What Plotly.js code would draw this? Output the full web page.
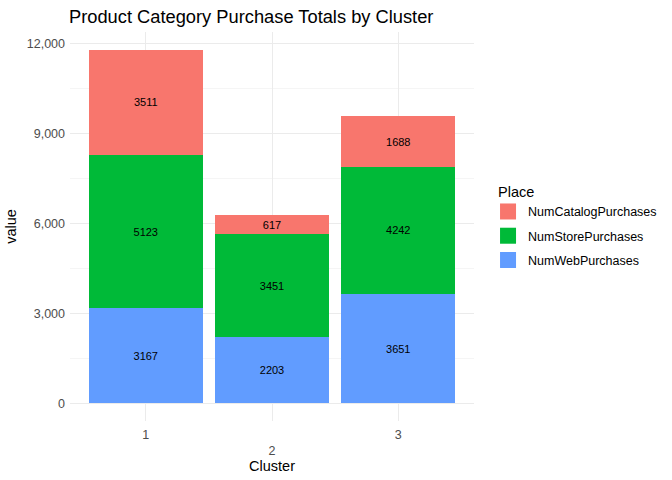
<!DOCTYPE html>
<html>
<head>
<meta charset="utf-8">
<script src="https://cdn.plot.ly/plotly-3.0.1.min.js"></script>
<style>html,body{margin:0;padding:0;background:#fff}#chart{width:672px;height:480px}</style>
</head>
<body>
<div id="chart"></div>
<script>
const clusters = [1, 2, 3];
const clusterLabels = ["1", "<br>2", "3"];
const webPurchases = [3167, 2203, 3651];
const storePurchases = [5123, 3451, 4242];
const catalogPurchases = [3511, 617, 1688];
const seriesNames = ["NumWebPurchases", "NumStorePurchases", "NumCatalogPurchases"];
const seriesColors = ["#619CFF", "#00BA38", "#F8766D"];
const seriesValues = [webPurchases, storePurchases, catalogPurchases];

const font = "Liberation Sans, Arial, sans-serif";
const traces = [];
// legend entries (square keys), listed top to bottom: Catalog, Store, Web
[2, 1, 0].forEach(i => {
  traces.push({
    type: "scatter", mode: "markers", x: [null], y: [null], name: seriesNames[i],
    legendgroup: seriesNames[i],
    marker: {symbol: "square", size: 20, color: seriesColors[i], line: {width: 0}},
    showlegend: true
  });
});
seriesValues.forEach((vals, i) => {
  traces.push({
    type: "bar",
    x: clusters,
    y: vals,
    name: seriesNames[i],
    legendgroup: seriesNames[i],
    showlegend: false,
    marker: {color: seriesColors[i], line: {width: 0}},
    width: 0.9,
    text: vals.map(String),
    textposition: "inside",
    insidetextanchor: "middle",
    textangle: 0,
    constraintext: "none",
    textfont: {family: font, size: 11, color: "#000000"}
  });
});

const layout = {
  width: 672, height: 480,
  barmode: "stack",
  paper_bgcolor: "#ffffff", plot_bgcolor: "#ffffff",
  margin: {l: 70, r: 198, t: 32, b: 59, autoexpand: false},
  font: {family: font},
  title: {text: "Product Category Purchase Totals by Cluster", x: 69/672, xanchor: "left", xref: "container", y: 1 - 17/480, yanchor: "middle", font: {family: font, size: 18.3, color: "#000000"}},
  xaxis: {
    range: [0.4, 3.6], tickvals: clusters, ticktext: clusterLabels,
    showgrid: true, gridcolor: "#EBEBEB", gridwidth: 1, zeroline: false, showline: false,
    ticks: "", ticklabelstandoff: 4, tickfont: {family: font, size: 12.5, color: "#4D4D4D"},
    title: {text: "Cluster", font: {family: font, size: 14.5, color: "#000000"}, standoff: 2}
  },
  yaxis: {
    range: [-590, 12391], tickvals: [0, 3000, 6000, 9000, 12000], tickformat: ",d",
    showgrid: true, gridcolor: "#EBEBEB", gridwidth: 1, zeroline: false, showline: false,
    minor: {tickvals: [1500, 4500, 7500, 10500], showgrid: true, gridcolor: "#EBEBEB", gridwidth: 0.5},
    ticks: "", ticklabelstandoff: 4, tickfont: {family: font, size: 12.5, color: "#4D4D4D"},
    title: {text: "value", font: {family: font, size: 14.5, color: "#000000"}, standoff: 6}
  },
  legend: {
    x: (487-70)/403, xanchor: "left", y: (421-178)/389, yanchor: "top",
    traceorder: "grouped", tracegroupgap: 5,
    itemsizing: "trace",
    title: {text: "&nbsp;&nbsp;Place", font: {family: font, size: 14.5, color: "#000000"}},
    font: {family: font, size: 12.5, color: "#000000"},
    bgcolor: "rgba(0,0,0,0)"
  },
  showlegend: true
};

Plotly.newPlot("chart", traces, layout, {displayModeBar: false, staticPlot: true});
</script>
</body>
</html>
